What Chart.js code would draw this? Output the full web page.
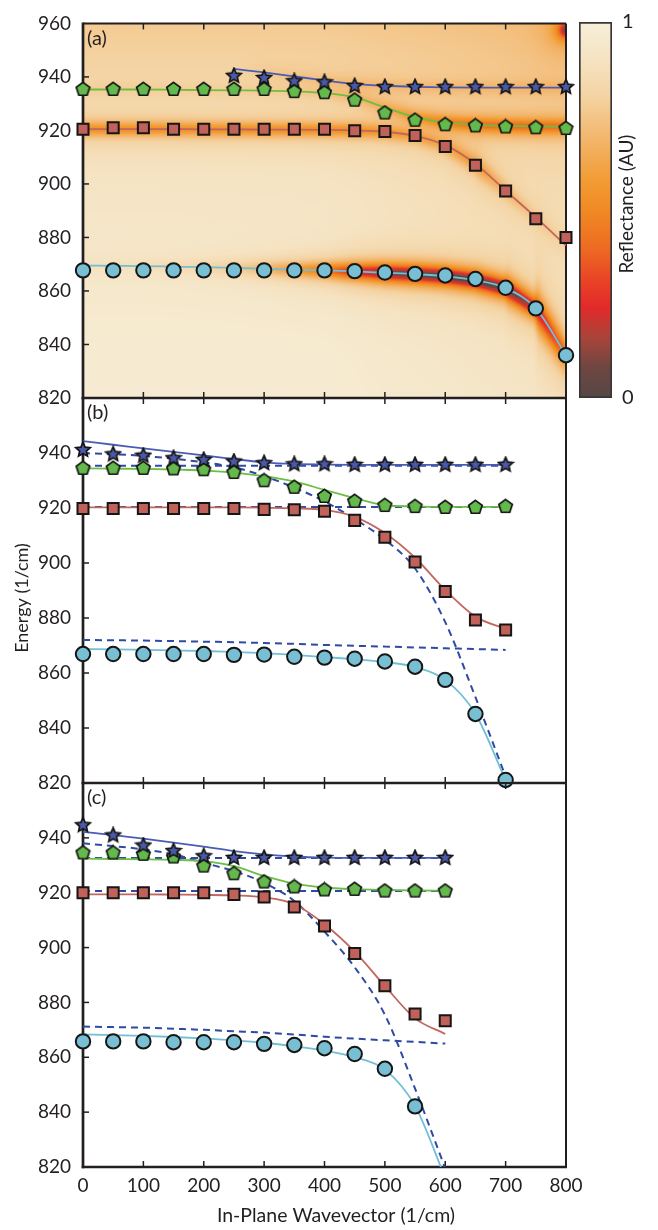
<!DOCTYPE html>
<html><head><meta charset="utf-8">
<script src="https://cdn.jsdelivr.net/npm/chart.js@4.4.1/dist/chart.umd.min.js"></script>
<style>
html,body{margin:0;padding:0;background:#fff;}
#wrap{position:relative;width:658px;height:1230px;}
canvas{position:absolute;left:0;top:0;}
</style></head><body>
<div id="wrap">
<canvas id="cA" width="658" height="1230"></canvas>
<canvas id="cBar" width="658" height="1230"></canvas>
<canvas id="cB" width="658" height="1230"></canvas>
<canvas id="cC" width="658" height="1230"></canvas>
</div>
<script>
// ---------------- data ----------------
const xTickValues = [0,100,200,300,400,500,600,700,800];
const yTickValues = [820,840,860,880,900,920,940,960];

const wavevectorA = [0,50,100,150,200,250,300,350,400,450,500,550,600,650,700,750,800];
const wavevectorStarsA = [250,300,350,400,450,500,550,600,650,700,750,800];
const wavevectorB = [0,50,100,150,200,250,300,350,400,450,500,550,600,650,700];
const wavevectorC = [0,50,100,150,200,250,300,350,400,450,500,550,600];
const wavevectorCircC = [0,50,100,150,200,250,300,350,400,450,500,550];

// panel (a)
const cyanPointsA  = [867.7,867.7,867.7,867.7,867.7,867.7,867.7,867.7,867.7,867.4,866.9,866.4,865.8,864.5,861.2,853.5,836.0];
const cyanFitA     = [869.5,869.4,869.3,869.1,868.9,868.6,868.3,868.0,867.7,867.3,866.8,866.3,865.5,864.0,861.0,853.5,836.0];
const redPointsA   = [920.4,921.0,921.0,920.4,920.4,920.4,920.4,920.4,920.4,919.9,919.6,918.1,914.0,907.0,897.4,887.0,880.0];
const redFitA      = [920.5,920.5,920.5,920.5,920.4,920.4,920.3,920.3,920.2,920.0,919.5,918.0,914.5,907.5,897.5,887.5,877.0];
const greenPointsA = [935.3,935.3,935.3,935.3,935.3,935.3,935.3,934.5,934.1,931.3,926.5,923.8,922.1,921.7,921.3,921.0,920.7];
const greenFitA    = [935.3,935.3,935.3,935.2,935.1,935.0,934.9,934.6,934.0,932.4,928.6,925.0,923.0,922.1,921.7,921.5,921.4];
const bluePointsA  = [940.4,939.6,938.4,938.0,936.6,936.2,936.2,936.2,936.2,936.2,936.2,936.2];
const blueFitA     = [943.0,941.7,940.2,938.7,937.4,936.7,936.3,936.1,936.0,936.0,936.0,936.0];

// reflectance map of panel (a): dip strength along each branch
const cyanDipA  = [0.05,0.06,0.07,0.09,0.12,0.17,0.26,0.38,0.52,0.74,0.92,0.98,1.00,1.00,0.97,0.80,0.55];
const redDipA   = [0.40,0.40,0.40,0.40,0.40,0.40,0.40,0.40,0.40,0.38,0.34,0.28,0.26,0.32,0.20,0.12,0.08];
const greenDipA = [0.06,0.06,0.06,0.06,0.06,0.06,0.06,0.07,0.09,0.13,0.20,0.30,0.42,0.50,0.52,0.52,0.50];
const blueDipA  = [0.00,0.05,0.08,0.10,0.12,0.12,0.12,0.12,0.12,0.12,0.12,0.12];
const backgroundEnergy = [820,840,860,880,900,915,930,945,960];
const backgroundLevel  = [0.97,0.965,0.95,0.935,0.915,0.895,0.865,0.81,0.77];
const backgroundWavevector = [0,400,600,800];
const backgroundFactor     = [1,1,0.97,0.94];
const cornerDip = [800, 957.5, 0.95];   // wavevector, energy, strength
const colormapLevels = [0,0.08,0.16,0.24,0.30,0.40,0.50,0.58,0.70,0.80,0.90,1];
const colormapColors = ['#544846','#6e4641','#a8443a','#e22a2a','#e83e26','#ee6b22','#f08a24','#f29c35','#f3b871','#f4d3a2','#f5e3c2','#f6efd9'];

// panel (b)
const cyanPointsB  = [866.9,866.9,866.9,866.9,866.9,866.6,866.7,865.9,865.6,865.2,864.2,862.3,857.5,845.1,821.1];
const cyanFitB     = [868.7,868.6,868.4,868.2,868.0,867.6,867.2,866.6,865.8,865.0,864.0,862.2,857.5,845.2,821.0];
const redPointsB   = [919.8,919.8,919.8,919.8,919.8,919.8,919.5,919.4,918.8,915.5,909.4,900.4,889.6,879.3,875.6];
const redFitB      = [920.2,920.2,920.2,920.2,920.2,920.2,920.1,919.9,919.3,916.8,910.9,901.9,890.2,880.5,876.0];
const greenPointsB = [934.4,934.4,934.4,934.2,933.9,932.9,929.9,927.5,924.2,922.4,920.9,920.5,920.2,920.2,920.5];
const greenFitB    = [934.4,934.3,934.2,934.0,933.6,932.9,931.6,929.6,926.6,923.6,921.0,920.6,920.4,920.4,920.4];
const bluePointsB  = [941.1,939.5,939.0,938.1,937.5,936.9,936.3,935.9,935.9,935.7,935.7,935.7,935.7,935.7,935.7];
const blueFitB     = [944.3,943.0,941.7,940.4,939.1,937.8,936.6,936.0,935.8,935.7,935.7,935.7,935.7,935.7,935.7];
const uncoupledUpperB  = [935.4,935.4,935.4,935.4,935.4,935.4,935.4,935.4,935.4,935.4,935.4,935.4,935.4,935.4,935.4];
const uncoupledMiddleB = [920.4,920.4,920.4,920.4,920.4,920.4,920.4,920.4,920.4,920.4,920.4,920.4,920.4,920.4,920.4];
const uncoupledLowerB  = [872.0,871.9,871.8,871.6,871.4,871.2,870.9,870.6,870.2,869.9,869.6,869.3,869.0,868.7,868.4];
const photonB          = [939.9,939.6,938.9,937.9,936.6,934.8,931.6,927.4,922.4,916.0,908.5,898.0,878.5,851.2,822.3];

// panel (c)
const cyanPointsC  = [865.8,865.8,865.8,865.5,865.5,865.5,864.9,864.5,863.3,861.2,855.8,842.1];
const cyanFitC     = [868.3,868.1,867.8,867.4,866.9,866.2,865.3,864.0,862.4,860.0,855.5,842.3,816.0];
const redPointsC   = [920.0,920.0,920.0,920.0,920.0,919.4,918.4,914.8,907.9,897.8,886.1,875.8,873.3];
const redFitC      = [919.4,919.4,919.4,919.3,919.2,919.0,918.3,915.8,908.5,898.5,886.0,874.2,868.5];
const greenPointsC = [934.5,934.5,934.0,933.0,929.7,926.9,923.9,922.1,921.0,921.2,920.6,920.6,920.6];
const greenFitC    = [932.4,932.3,932.2,932.0,931.5,929.7,926.1,923.3,921.9,921.3,921.0,920.8,920.7];
const bluePointsC  = [944.6,940.9,937.2,935.2,933.3,932.7,932.7,932.7,932.7,932.7,932.7,932.7,932.7];
const blueFitC     = [942.2,941.0,939.7,938.3,936.8,935.2,934.0,933.2,932.8,932.7,932.7,932.7,932.7];
const uncoupledUpperC  = [932.7,932.7,932.7,932.7,932.7,932.7,932.7,932.7,932.7,932.7,932.7,932.7,932.7];
const uncoupledMiddleC = [920.6,920.6,920.6,920.6,920.6,920.6,920.6,920.6,920.6,920.6,920.6,920.6,920.6];
const uncoupledLowerC  = [871.2,871.0,870.8,870.4,870.0,869.5,869.0,868.3,867.5,866.8,866.2,865.6,865.0];
const photonC          = [938.0,937.0,935.8,934.0,930.9,927.9,923.6,917.0,905.8,892.8,875.5,848.6,819.5];

const reflectanceTicks = [0,1];

// ---------------- styling ----------------
const INK = '#231f20';
const FONT = "Lato, 'DejaVu Sans', sans-serif";
const COL = {
  cyanFill:'#79bfd3', cyanLine:'#70bfd6',
  redFill:'#c0615a', redLine:'#c2675e',
  greenFill:'#63b94b', greenLine:'#6cbf44',
  blueFill:'#4b59a8', blueLine:'#4b5cb5',
  dash:'#2f4aa3'
};
Chart.defaults.font.family = FONT;
Chart.defaults.color = INK;

function makeMarker(kind, fill, size){
  const c = document.createElement('canvas'); c.width = c.height = size;
  const g = c.getContext('2d'); const cx = size/2, cy = size/2;
  g.beginPath();
  if (kind === 'star'){
    const R = size/2 - 1.4, r = R*0.47;
    for (let i=0;i<10;i++){ const a = -Math.PI/2 + i*Math.PI/5; const rad = (i%2)? r : R; g.lineTo(cx+rad*Math.cos(a), cy+rad*Math.sin(a)); }
  } else {
    const R = size/2 - 1.4;
    for (let i=0;i<5;i++){ const a = -Math.PI/2 + i*2*Math.PI/5; g.lineTo(cx+R*Math.cos(a), cy+R*Math.sin(a)); }
  }
  g.closePath(); g.fillStyle = fill; g.fill();
  g.lineWidth = 1.7; g.strokeStyle = '#141414'; g.lineJoin = 'miter'; g.stroke();
  return c;
}
const starImg = makeMarker('star', COL.blueFill, 18);
const pentImg = makeMarker('pent', COL.greenFill, 17);

function pts(xs, ys){ return xs.map((x,i)=>({x, y: ys[i]})); }
function markers(xs, ys, style, fill, radius){
  return { data: pts(xs,ys), showLine:false, pointStyle: style, pointRadius: radius,
    pointBackgroundColor: fill, pointBorderColor:'#161616', pointBorderWidth: 2,
    order: 0, clip: false };
}
function curve(xs, ys, color, dashed){
  return { data: pts(xs,ys), showLine:true, pointRadius:0, borderColor: color,
    borderWidth: dashed ? 2 : 1.8, borderDash: dashed ? [7,5] : [],
    cubicInterpolationMode:'monotone', fill:false, order: dashed ? 2 : 1 };
}

function lerp(xs, ys, x){
  const n = xs.length;
  if (x <= xs[0]) return ys[0];
  if (x >= xs[n-1]) return ys[n-1];
  let i = 1; while (xs[i] < x) i++;
  const t = (x - xs[i-1])/(xs[i]-xs[i-1]);
  return ys[i-1] + t*(ys[i]-ys[i-1]);
}
function hexRgb(h){ return [parseInt(h.substr(1,2),16), parseInt(h.substr(3,2),16), parseInt(h.substr(5,2),16)]; }
const cmapRgb = colormapColors.map(hexRgb);
function colormap(v){
  v = Math.max(0, Math.min(1, v));
  let i = 1; while (i < colormapLevels.length-1 && colormapLevels[i] < v) i++;
  const t = (v - colormapLevels[i-1])/(colormapLevels[i]-colormapLevels[i-1]);
  const a = cmapRgb[i-1], b = cmapRgb[i];
  return [a[0]+t*(b[0]-a[0]), a[1]+t*(b[1]-a[1]), a[2]+t*(b[2]-a[2])];
}

let heatCache = null;
function drawHeatmap(chart){
  const {ctx, chartArea:a, scales:{x, y}} = chart;
  const x0 = x.getPixelForValue(0), x1 = x.getPixelForValue(800);
  const yTop = y.getPixelForValue(960), yBot = y.getPixelForValue(820);
  if (!heatCache){
    const pxPerX = (x1-x0)/800, pxPerE = (yBot-yTop)/140, k = pxPerE/pxPerX;
    const bands = [
      {xs: wavevectorA, c: cyanFitA, d: cyanDipA, w: 3.1},
      {xs: wavevectorA, c: redFitA, d: redDipA, w: 2.8},
      {xs: wavevectorA, c: greenFitA, d: greenDipA, w: 2.8},
      {xs: wavevectorStarsA, c: blueFitA, d: blueDipA, w: 2.8}
    ];
    const cols = 400, rows = 350;
    const off = document.createElement('canvas'); off.width = cols; off.height = rows;
    const g = off.getContext('2d'); const img = g.createImageData(cols, rows);
    for (let i=0;i<cols;i++){
      const xv = (i+0.5)*800/cols;
      const info = bands.map(b => {
        const c = lerp(b.xs, b.c, xv);
        const s = (lerp(b.xs, b.c, xv+4) - lerp(b.xs, b.c, xv-4))/8 * k;
        return {c, depth: lerp(b.xs, b.d, xv), w: b.w, f: 1/Math.sqrt(1+s*s)};
      });
      const bgx = lerp(backgroundWavevector, backgroundFactor, xv);
      for (let j=0;j<rows;j++){
        const ev = 960 - (j+0.5)*140/rows;
        let r = lerp(backgroundEnergy, backgroundLevel, ev) * bgx;
        for (const b of info){
          if (b.depth <= 0) continue;
          const dd = (ev - b.c)*b.f/b.w;
          r *= 1 - b.depth/(1+dd*dd);
        }
        const dx = (xv - cornerDip[0])/11, de = (ev - cornerDip[1])/2.6;
        r *= 1 - cornerDip[2]/(1+dx*dx+de*de);
        const col = colormap(r);
        const p = (j*cols+i)*4;
        img.data[p]=col[0]; img.data[p+1]=col[1]; img.data[p+2]=col[2]; img.data[p+3]=255;
      }
    }
    g.putImageData(img,0,0);
    heatCache = off;
  }
  ctx.save();
  ctx.beginPath(); ctx.rect(a.left, a.top, a.right-a.left, a.bottom-a.top); ctx.clip();
  ctx.imageSmoothingEnabled = true;
  ctx.drawImage(heatCache, x0, yTop, x1-x0, yBot-yTop);
  ctx.restore();
}

const framePlugin = {
  id: 'frame',
  beforeDatasetsDraw(chart, args, opts){
    const {ctx, chartArea:a, scales:{x, y}} = chart;
    if (opts.heatmap) drawHeatmap(chart);
    ctx.save();
    ctx.strokeStyle = INK; ctx.lineCap = 'butt';
    const seg = (x1,y1,x2,y2) => { ctx.beginPath(); ctx.moveTo(x1,y1); ctx.lineTo(x2,y2); ctx.stroke(); };
    ctx.lineWidth = 1.5;
    xTickValues.forEach(v => {
      const px = x.getPixelForValue(v);
      if (px <= a.left+2 || px >= a.right-2) return;
      seg(px, a.top, px, a.top+6);
      seg(px, a.bottom, px, a.bottom-6);
    });
    yTickValues.forEach(v => {
      const py = y.getPixelForValue(v);
      if (py <= a.top+2 || py >= a.bottom-2) return;
      seg(a.left, py, a.left+6, py);
    });
    ctx.lineWidth = 2;
    seg(a.left, a.top, a.right, a.top);
    seg(a.right, a.top, a.right, a.bottom);
    ctx.lineWidth = 2.7;
    seg(a.left, a.top-1, a.left, a.bottom+1.3);
    seg(a.left-1.3, a.bottom, a.right+1, a.bottom);
    ctx.restore();
  },
  afterDraw(chart, args, opts){
    const {ctx, chartArea:a} = chart;
    ctx.save();
    ctx.fillStyle = INK;
    ctx.font = '20px ' + FONT; ctx.textAlign = 'left'; ctx.textBaseline = 'middle';
    ctx.fillText(opts.label, a.left + 4, a.top + 15);
    if (opts.yTitle){
      ctx.save(); ctx.translate(22, 598); ctx.rotate(-Math.PI/2);
      ctx.font = '18px ' + FONT; ctx.textAlign = 'center';
      ctx.fillText('Energy (1/cm)', 0, 0); ctx.restore();
    }
    if (opts.xTitle){
      ctx.font = '19.5px ' + FONT; ctx.textAlign = 'center';
      ctx.fillText('In-Plane Wavevector (1/cm)', 336, 1216);
    }
    ctx.restore();
  }
};

function panel(canvasId, top, bottom, datasets, cfg){
  const showX = !!cfg.xTitle;
  const xh = showX ? 40 : 0;
  return new Chart(document.getElementById(canvasId), {
    type: 'scatter',
    data: { datasets },
    options: {
      responsive: false, animation: false, devicePixelRatio: 1,
      layout: { padding: { left: 0, right: 92, top: top, bottom: 1230 - bottom - xh } },
      plugins: { legend: {display:false}, tooltip: {enabled:false},
        frame: { heatmap: !!cfg.heatmap, label: cfg.label, yTitle: !!cfg.yTitle, xTitle: !!cfg.xTitle } },
      scales: {
        x: { type:'linear', min:0, max:800, display: showX,
          ticks: { stepSize:100, maxRotation:0, autoSkip:false, padding:7, font:{size:19}, color: INK },
          grid: { display:false, drawTicks:false }, border: { display:false },
          afterFit(s){ if (showX) s.height = xh; } },
        y: { type:'linear', min:820, max:960, position:'left',
          ticks: { stepSize:20, autoSkip:false, padding:12, font:{size:19}, color: INK,
            callback: v => (cfg.hideTop && v === 960) ? '' : String(v) },
          grid: { display:false, drawTicks:false }, border: { display:false },
          afterFit(s){ s.width = 83; } }
      }
    },
    plugins: [framePlugin]
  });
}

// panel (a)
panel('cA', 14, 398, [
  markers(wavevectorStarsA, bluePointsA, starImg, COL.blueFill, 8),
  markers(wavevectorA, greenPointsA, pentImg, COL.greenFill, 8),
  markers(wavevectorA, redPointsA, 'rect', COL.redFill, 7.8),
  markers(wavevectorA, cyanPointsA, 'circle', COL.cyanFill, 7.2),
  curve(wavevectorStarsA, blueFitA, COL.blueLine, false),
  curve(wavevectorA, greenFitA, COL.greenLine, false),
  curve(wavevectorA, redFitA, COL.redLine, false),
  curve(wavevectorA, cyanFitA, COL.cyanLine, false)
], {heatmap:true, label:'(a)'});

// panel (b)
panel('cB', 398, 783, [
  markers(wavevectorB, bluePointsB, starImg, COL.blueFill, 8),
  markers(wavevectorB, greenPointsB, pentImg, COL.greenFill, 8),
  markers(wavevectorB, redPointsB, 'rect', COL.redFill, 7.8),
  markers(wavevectorB, cyanPointsB, 'circle', COL.cyanFill, 7.2),
  curve(wavevectorB, blueFitB, COL.blueLine, false),
  curve(wavevectorB, greenFitB, COL.greenLine, false),
  curve(wavevectorB, redFitB, COL.redLine, false),
  curve(wavevectorB, cyanFitB, COL.cyanLine, false),
  curve(wavevectorB, uncoupledUpperB, COL.dash, true),
  curve(wavevectorB, uncoupledMiddleB, COL.dash, true),
  curve(wavevectorB, uncoupledLowerB, COL.dash, true),
  curve(wavevectorB, photonB, COL.dash, true)
], {label:'(b)', hideTop:true, yTitle:true});

// panel (c)
panel('cC', 783, 1167, [
  markers(wavevectorC, bluePointsC, starImg, COL.blueFill, 8),
  markers(wavevectorC, greenPointsC, pentImg, COL.greenFill, 8),
  markers(wavevectorC, redPointsC, 'rect', COL.redFill, 7.8),
  markers(wavevectorCircC, cyanPointsC, 'circle', COL.cyanFill, 7.2),
  curve(wavevectorC, blueFitC, COL.blueLine, false),
  curve(wavevectorC, greenFitC, COL.greenLine, false),
  curve(wavevectorC, redFitC, COL.redLine, false),
  curve(wavevectorC, cyanFitC, COL.cyanLine, false),
  curve(wavevectorC, uncoupledUpperC, COL.dash, true),
  curve(wavevectorC, uncoupledMiddleC, COL.dash, true),
  curve(wavevectorC, uncoupledLowerC, COL.dash, true),
  curve(wavevectorC, photonC, COL.dash, true)
], {label:'(c)', hideTop:true, xTitle:true});

// colour bar
const barTitlePlugin = {
  id: 'barTitle',
  afterDraw(chart){
    const {ctx} = chart;
    ctx.save(); ctx.fillStyle = INK; ctx.font = '19px ' + FONT;
    ctx.translate(627, 204); ctx.rotate(-Math.PI/2);
    ctx.textAlign = 'center'; ctx.textBaseline = 'middle';
    ctx.fillText('Reflectance (AU)', 0, 0);
    ctx.restore();
  }
};
new Chart(document.getElementById('cBar'), {
  type: 'bar',
  data: { labels: ['R'], datasets: [{
    data: [[reflectanceTicks[0], reflectanceTicks[1]]],
    backgroundColor(context){
      const chart = context.chart; const ys = chart.scales.y;
      if (!ys || !chart.chartArea) return '#f29c35';
      const g = chart.ctx.createLinearGradient(0, ys.getPixelForValue(0), 0, ys.getPixelForValue(1));
      colormapLevels.forEach((lv,i) => g.addColorStop(lv, colormapColors[i]));
      return g;
    },
    borderColor: '#3a3536', borderWidth: 2, borderSkipped: false,
    barPercentage: 1, categoryPercentage: 1
  }]},
  options: {
    responsive: false, animation: false, devicePixelRatio: 1,
    layout: { padding: { left: 579, right: 16, top: 14, bottom: 832 } },
    plugins: { legend: {display:false}, tooltip: {enabled:false} },
    scales: {
      x: { display: false },
      y: { position:'right', min:0, max:1,
        ticks: { stepSize:1, padding:10, font:{size:20}, color: INK },
        grid: { display:false, drawTicks:false }, border: { display:false },
        afterFit(s){ s.width = 30; } }
    }
  },
  plugins: [barTitlePlugin]
});
</script>
</body></html>
